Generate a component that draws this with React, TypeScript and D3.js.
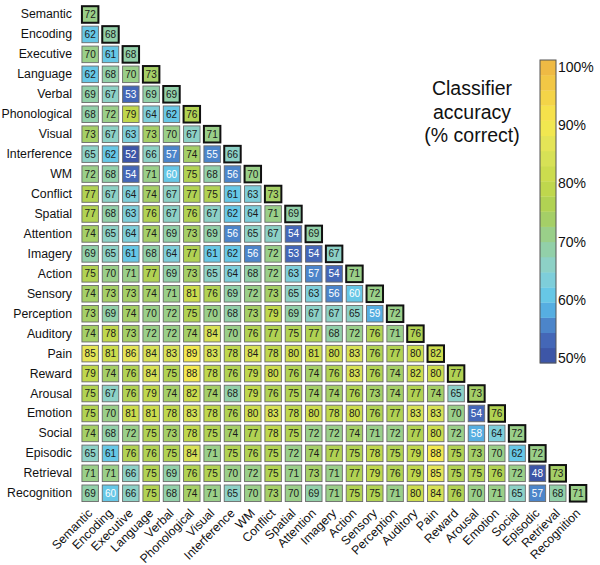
import React from "react";
import * as d3 from "d3";

const categories = [
  "Semantic", "Encoding", "Executive", "Language", "Verbal", "Phonological",
  "Visual", "Interference", "WM", "Conflict", "Spatial", "Attention", "Imagery",
  "Action", "Sensory", "Perception", "Auditory", "Pain", "Reward", "Arousal",
  "Emotion", "Social", "Episodic", "Retrieval", "Recognition",
];

// lower-triangular accuracy matrix (row i has i+1 values)
const accuracy: number[][] = [
  [72],
  [62, 68],
  [70, 61, 68],
  [62, 68, 70, 73],
  [69, 67, 53, 69, 69],
  [68, 72, 79, 64, 62, 76],
  [73, 67, 63, 73, 70, 67, 71],
  [65, 62, 52, 66, 57, 74, 55, 66],
  [72, 68, 54, 71, 60, 75, 68, 56, 70],
  [77, 67, 64, 74, 67, 77, 75, 61, 63, 73],
  [77, 68, 63, 76, 67, 76, 67, 62, 64, 71, 69],
  [74, 65, 64, 74, 69, 73, 69, 56, 65, 67, 54, 69],
  [69, 65, 61, 68, 64, 77, 61, 62, 56, 72, 53, 54, 67],
  [75, 70, 71, 77, 69, 73, 65, 64, 68, 72, 63, 57, 54, 71],
  [74, 73, 73, 74, 71, 81, 76, 69, 72, 73, 65, 63, 56, 60, 72],
  [73, 69, 74, 70, 72, 75, 70, 68, 73, 79, 69, 67, 67, 65, 59, 72],
  [74, 78, 73, 72, 72, 74, 84, 70, 76, 77, 75, 77, 68, 72, 76, 71, 76],
  [85, 81, 86, 84, 83, 89, 83, 78, 84, 78, 80, 81, 80, 83, 76, 77, 80, 82],
  [79, 74, 76, 84, 75, 88, 78, 76, 79, 80, 76, 74, 76, 83, 76, 74, 82, 80, 77],
  [75, 67, 76, 79, 74, 82, 74, 68, 79, 76, 75, 74, 74, 76, 73, 74, 77, 74, 65, 73],
  [75, 70, 81, 81, 78, 83, 78, 76, 80, 83, 78, 80, 78, 80, 76, 77, 83, 83, 70, 54, 76],
  [74, 68, 72, 75, 73, 78, 75, 74, 77, 78, 75, 72, 72, 74, 71, 72, 77, 80, 72, 58, 64, 72],
  [65, 61, 76, 76, 75, 84, 71, 75, 76, 75, 72, 74, 77, 75, 78, 75, 79, 88, 75, 73, 70, 62, 72],
  [71, 71, 66, 75, 69, 76, 75, 70, 72, 75, 71, 73, 71, 77, 79, 76, 79, 85, 75, 75, 76, 72, 48, 73],
  [69, 60, 66, 75, 68, 74, 71, 65, 70, 73, 70, 69, 71, 75, 75, 71, 80, 84, 76, 70, 71, 65, 57, 68, 71],
];

const colorbarTicks = [50, 60, 70, 80, 90, 100];
const titleLines = ["Classifier", "accuracy", "(% correct)"];

const FONT = "'Liberation Sans', Arial, Helvetica, sans-serif";

// parula-like colour stops
const stopVals = [50, 55, 60, 65, 70, 75, 80, 85, 90, 95, 100];
const stopCols = [
  "#3a4d9f", "#4770bf", "#5bc3ec", "#8ad2d4", "#95cf9a", "#aacf56",
  "#c6d94a", "#dde35a", "#f7e84c", "#f3cd46", "#eeb443",
];
const contColor = d3.scaleLinear<string>().domain(stopVals).range(stopCols).clamp(true);
const nBands = 20;
const bandColors = d3.range(nBands).map((i) => contColor(50 + (i + 0.5) * (50 / nBands)));
const color = d3.scaleQuantize<string>().domain([50, 100]).range(bandColors);

export default function App() {
  const x = d3.scaleBand<string>().domain(categories).range([80, 80 + 25 * 20.33]).paddingInner(0.19).paddingOuter(0.095);
  const y = d3.scaleBand<string>().domain(categories).range([4.5, 4.5 + 25 * 19.95]).paddingInner(0.17).paddingOuter(0.085);
  const cbY = d3.scaleLinear().domain([50, 100]).range([363, 60]);
  const cbLabelY = d3.scaleLinear().domain([50, 100]).range([358, 67]);
  const bw = x.bandwidth();
  const bh = y.bandwidth();

  const cells: { r: number; c: number; v: number }[] = [];
  accuracy.forEach((row, r) => row.forEach((v, c) => cells.push({ r, c, v })));

  return (
    <svg width={600} height={565} style={{ position: "absolute", left: 0, top: 0, background: "#fff" }} fontFamily={FONT}>
      {categories.map((cat) => (
        <text key={"rl" + cat} x={72} y={(y(cat) as number) + bh / 2} textAnchor="end" dominantBaseline="central" fontSize={12.3} fill="#111">
          {cat}
        </text>
      ))}
      {categories.map((cat) => {
        const cx = (x(cat) as number) + bw / 2;
        return (
          <text key={"cl" + cat} transform={`translate(${cx + 3},${514}) rotate(-45)`} textAnchor="end" fontSize={12.3} fill="#111">
            {cat}
          </text>
        );
      })}
      {cells.filter((d) => d.r !== d.c).map((d) => {
        const X = x(categories[d.c]) as number;
        const Y = y(categories[d.r]) as number;
        return (
          <g key={`c${d.r}-${d.c}`}>
            <rect x={X} y={Y} width={bw} height={bh} fill={color(d.v)} stroke="#6a6a6a" strokeWidth={0.9} />
            <text x={X + bw / 2} y={Y + bh / 2} textAnchor="middle" dominantBaseline="central" fontSize={10} fill={d.v <= 60 ? "#fff" : "#1a1a1a"}>
              {d.v}
            </text>
          </g>
        );
      })}
      {cells.filter((d) => d.r === d.c).map((d) => {
        const X = x(categories[d.c]) as number;
        const Y = y(categories[d.r]) as number;
        return (
          <g key={`d${d.r}`}>
            <rect x={X} y={Y} width={bw} height={bh} fill={color(d.v)} stroke="#111" strokeWidth={2} />
            <text x={X + bw / 2} y={Y + bh / 2} textAnchor="middle" dominantBaseline="central" fontSize={10} fill={d.v <= 60 ? "#fff" : "#1a1a1a"}>
              {d.v}
            </text>
          </g>
        );
      })}
      {titleLines.map((t, i) => (
        <text key={"t" + i} x={472} y={95 + i * 23.5} textAnchor="middle" fontSize={19.5} fill="#111">
          {t}
        </text>
      ))}
      {bandColors.map((c, i) => {
        const lo = 50 + i * 2.5;
        const hi = lo + 2.5;
        return <rect key={"cb" + i} x={540} y={cbY(hi)} width={16} height={cbY(lo) - cbY(hi) + 0.3} fill={c} />;
      })}
      <rect x={540} y={60} width={16} height={303} fill="none" stroke="#555" strokeWidth={1} />
      {colorbarTicks.map((t) => (
        <text key={"cbt" + t} x={558} y={cbLabelY(t)} dominantBaseline="central" fontSize={14} fill="#111">
          {t}%
        </text>
      ))}
    </svg>
  );
}
